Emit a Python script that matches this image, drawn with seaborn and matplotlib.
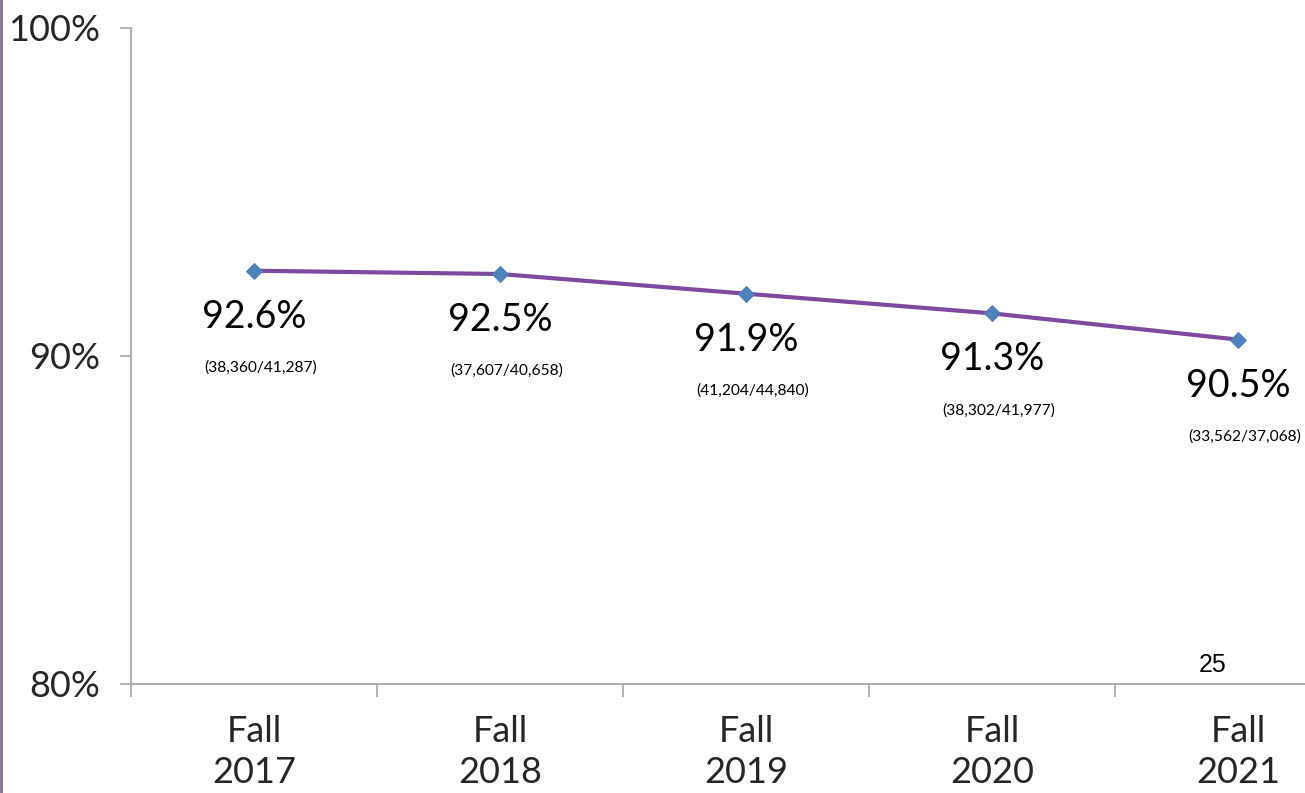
import matplotlib
matplotlib.use("Agg")
import matplotlib.pyplot as plt
from matplotlib.ticker import FixedLocator, FuncFormatter
from matplotlib.patches import Rectangle
import seaborn as sns
import pandas as pd

# Dados do gráfico
periodos = ["Fall\n2017", "Fall\n2018", "Fall\n2019", "Fall\n2020", "Fall\n2021"]
taxas = [92.6, 92.5, 91.9, 91.3, 90.5]
contagens = ["(38,360/41,287)", "(37,607/40,658)", "(41,204/44,840)",
             "(38,302/41,977)", "(33,562/37,068)"]
ticks_y = [80, 90, 100]
numero_slide = "25"

df = pd.DataFrame({"periodo": periodos, "taxa": taxas})

sns.set_theme(style="white")
plt.rcParams["font.family"] = ["Lato", "DejaVu Sans"]

COR_LINHA = "#7D4A9C"
COR_MARCA = "#4F81BD"
COR_EIXO = "#A6A6A6"

fig = plt.figure(figsize=(13.05, 7.93), dpi=100)
ax = fig.add_axes([131 / 1305, 109 / 793, 1230 / 1305, 656 / 793])

sns.lineplot(data=df, x="periodo", y="taxa", ax=ax, color=COR_LINHA,
             linewidth=3, marker="D", markersize=8,
             markerfacecolor=COR_MARCA, markeredgecolor=COR_MARCA, sort=False)

ax.set_xlim(-0.5, len(periodos) - 0.5)
ax.set_ylim(ticks_y[0], ticks_y[-1])
ax.set_xlabel("")
ax.set_ylabel("")

# eixo y
ax.yaxis.set_major_locator(FixedLocator(ticks_y))
ax.yaxis.set_major_formatter(FuncFormatter(lambda v, p: f"{v:.0f}%"))
ax.tick_params(axis="y", which="major", length=8, width=1.2, color=COR_EIXO,
               direction="out", labelsize=26, pad=14, left=True)

# eixo x: rótulos no centro, marcas entre categorias
ax.set_xticks(range(len(periodos)))
ax.set_xticklabels(periodos, fontsize=26, linespacing=1.3)
ax.tick_params(axis="x", which="major", length=0, pad=22)
ax.xaxis.set_minor_locator(FixedLocator([i - 0.5 for i in range(len(periodos) + 1)]))
ax.tick_params(axis="x", which="minor", length=9, width=1.2, color=COR_EIXO,
               direction="out", bottom=True)

for lado in ["top", "right"]:
    ax.spines[lado].set_visible(False)
for lado in ["left", "bottom"]:
    ax.spines[lado].set_color(COR_EIXO)
    ax.spines[lado].set_linewidth(1.3)

# rótulos dos pontos
for i, (v, c) in enumerate(zip(taxas, contagens)):
    ax.annotate(f"{v}%", (i, v), xytext=(0, -46), textcoords="offset pixels",
                ha="center", va="center", fontsize=27, color="black")
    ax.annotate(c, (i, v), xytext=(-50, -97), textcoords="offset pixels",
                ha="left", va="center", fontsize=11.2, color="black")

# número do slide
fig.text(1213 / 1305, 1 - 665 / 793, numero_slide, ha="center", va="center",
         fontsize=18, family=["Liberation Sans", "DejaVu Sans"], color="black")

# faixa na borda esquerda
fig.patches.append(Rectangle((0, 0), 2.5 / 1305, 1, transform=fig.transFigure,
                             facecolor="#8C7A9E", edgecolor="none"))

fig.savefig("out.png", dpi=100)
